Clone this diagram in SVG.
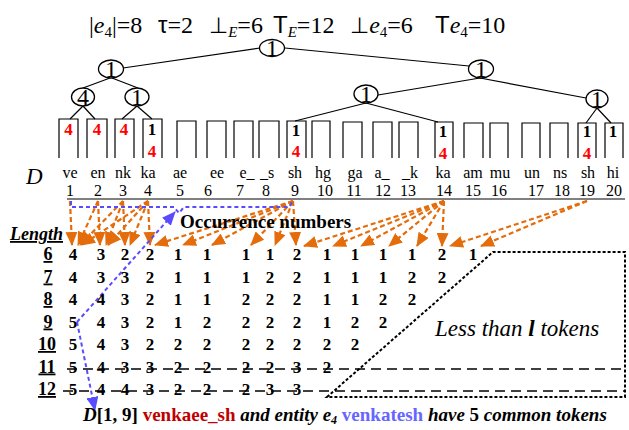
<svg xmlns="http://www.w3.org/2000/svg" width="629" height="430" viewBox="0 0 629 430">
<style>
text{font-family:"Liberation Serif","Times New Roman",serif;fill:#000}
.hd{font-size:24px}
.sans{font-family:"Liberation Sans",Arial,sans-serif}
.sym{font-family:"DejaVu Sans",sans-serif;font-size:22px}
.nd{fill:#fff;stroke:#000;stroke-width:1.3}
.ndt{font-size:24px;text-anchor:middle}
.edge{stroke:#000;stroke-width:1.2;fill:none}
.box{fill:none;stroke:#000;stroke-width:1.2}
.lv{font-size:17px;font-weight:bold;text-anchor:middle}
.red{fill:#FF0000}
.tok{font-size:16px;text-anchor:middle}
.cell{font-size:17px;font-weight:bold;text-anchor:middle}
.rl{font-size:18px;font-weight:bold;text-anchor:middle;text-decoration:underline}
.oa{stroke:#E46C0A;stroke-width:2.2;stroke-dasharray:5,3;fill:none;marker-end:url(#oh)}
.blue{stroke:#5B4BFF;stroke-width:2;stroke-dasharray:4,3;fill:none}
.strike{stroke:#000;stroke-width:1.4;stroke-dasharray:10,6;fill:none}
.dot{stroke:#000;stroke-width:2;stroke-dasharray:3,2;fill:none}
</style>
<defs>
<marker id="oh" markerUnits="userSpaceOnUse" markerWidth="14" markerHeight="12" refX="13" refY="6" orient="auto"><path d="M0,0 L14,6 L0,12 z" fill="#E46C0A"/></marker>
<marker id="bh" markerUnits="userSpaceOnUse" markerWidth="14" markerHeight="12" refX="13" refY="6" orient="auto"><path d="M0,0 L14,6 L0,12 z" fill="#5B4BFF"/></marker>
</defs>

<!-- header -->
<g id="header">
<text class="hd" x="89" y="33">|<tspan font-style="italic">e</tspan><tspan font-size="15" dy="4">4</tspan><tspan dy="-4">|=8</tspan></text>
<text class="hd" x="158" y="33"><tspan class="sans">τ</tspan>=2</text>
<text class="hd" x="209" y="33"><tspan class="sym">⊥</tspan><tspan font-style="italic" font-size="15" dy="4">E</tspan><tspan dy="-4">=6</tspan></text>
<text class="hd" x="273" y="33"><tspan class="sans">T</tspan><tspan font-style="italic" font-size="15" dy="4">E</tspan><tspan dy="-4">=12</tspan></text>
<text class="hd" x="350" y="33"><tspan class="sym">⊥</tspan><tspan font-style="italic">e</tspan><tspan font-size="15" dy="4">4</tspan><tspan dy="-4">=6</tspan></text>
<text class="hd" x="435" y="33"><tspan class="sans">T</tspan><tspan font-style="italic">e</tspan><tspan font-size="15" dy="4">4</tspan><tspan dy="-4">=10</tspan></text>
</g>

<!-- connectors -->
<g id="connectors">
<path class="edge" d="M260,48 L123,68"/>
<path class="edge" d="M285,48 L469,66"/>
<path class="edge" d="M110,78 L83,88"/>
<path class="edge" d="M112,78 L138,88"/>
<path class="edge" d="M83,106 L70,119"/>
<path class="edge" d="M83,106 L95,119"/>
<path class="edge" d="M137,106 L122,119"/>
<path class="edge" d="M137,106 L152,119"/>
<path class="edge" d="M480,78 L378,95"/>
<path class="edge" d="M480,78 L586,98"/>
<path class="edge" d="M366,103 L295,121"/>
<path class="edge" d="M366,103 L438,122"/>
<path class="edge" d="M597,108 L586,123"/>
<path class="edge" d="M597,108 L611,123"/>

<line x1="67" y1="199" x2="625" y2="199" stroke="#808080" stroke-width="2"/>

<!-- orange occurrence arrows -->
<path class="oa" d="M70,201 L72,245"/>
<path class="oa" d="M98,201 L78,245"/>
<path class="oa" d="M98,201 L100,245"/>
<path class="oa" d="M123,201 L80,245"/>
<path class="oa" d="M123,201 L106,245"/>
<path class="oa" d="M123,201 L125,245"/>
<path class="oa" d="M148,201 L82,245"/>
<path class="oa" d="M148,201 L108,245"/>
<path class="oa" d="M148,201 L130,245"/>
<path class="oa" d="M148,201 L150,245"/>
<path class="oa" d="M293,201 L155,245"/>
<path class="oa" d="M293,201 L183,245"/>
<path class="oa" d="M293,201 L212,245"/>
<path class="oa" d="M293,201 L251,245"/>
<path class="oa" d="M293,201 L275,245"/>
<path class="oa" d="M293,201 L296,245"/>
<path class="oa" d="M444,201 L304,246"/>
<path class="oa" d="M444,201 L333,246"/>
<path class="oa" d="M444,201 L361,246"/>
<path class="oa" d="M444,201 L389,246"/>
<path class="oa" d="M444,201 L417,246"/>
<path class="oa" d="M444,201 L442,246"/>
<path class="oa" d="M587,201 L450,246"/>
<path class="oa" d="M587,201 L481,246"/>

<!-- blue bracket and arrows -->
<path class="blue" d="M71,201 V207 H174 L179,213 L184,207 H289 L293,201"/>
<path class="blue" d="M77,322 L175,212" marker-end="url(#bh)"/>
<path class="blue" d="M77,322 L95,410" marker-end="url(#bh)"/>
</g>

<!-- tree nodes -->
<g id="n-root"><ellipse class="nd" cx="272" cy="48" rx="12.5" ry="8.5"/><text class="ndt" x="272" y="56">1</text></g>
<g id="n-l1"><ellipse class="nd" cx="111" cy="69" rx="12.5" ry="9"/><text class="ndt" x="111" y="77">1</text></g>
<g id="n-r1"><ellipse class="nd" cx="481" cy="69" rx="12.5" ry="9"/><text class="ndt" x="481" y="77">1</text></g>
<g id="n-l2a"><ellipse class="nd" cx="83" cy="97" rx="11.5" ry="9"/><text class="ndt" x="83" y="105">4</text></g>
<g id="n-l2b"><ellipse class="nd" cx="137" cy="97" rx="12" ry="9"/><text class="ndt" x="137" y="105">1</text></g>
<g id="n-r2a"><ellipse class="nd" cx="366" cy="94" rx="12" ry="9"/><text class="ndt" x="366" y="102">1</text></g>
<g id="n-r2b"><ellipse class="nd" cx="597" cy="99" rx="11" ry="9"/><text class="ndt" x="597" y="107">1</text></g>

<!-- leaves -->
<g id="leaf-1"><path class="box" d="M59,158 V119 H78 V158"/><text class="lv red" x="68.5" y="135">4</text></g>
<g id="leaf-2"><path class="box" d="M87,158 V119 H107 V158"/><text class="lv red" x="97" y="135">4</text></g>
<g id="leaf-3"><path class="box" d="M115,158 V119 H134 V158"/><text class="lv red" x="124" y="135">4</text></g>
<g id="leaf-4"><path class="box" d="M143,158 V119 H162 V158"/><text class="lv" x="152" y="135">1</text><text class="lv red" x="152" y="157">4</text></g>
<g id="leaf-5"><path class="box" d="M177,158 V121 H196 V158"/></g>
<g id="leaf-6"><path class="box" d="M207,158 V121 H226 V158"/></g>
<g id="leaf-7"><path class="box" d="M234,158 V121 H253 V158"/></g>
<g id="leaf-8"><path class="box" d="M259,158 V121 H279 V158"/></g>
<g id="leaf-9"><path class="box" d="M287,158 V121 H306 V158"/><text class="lv" x="296" y="136">1</text><text class="lv red" x="296" y="157">4</text></g>
<g id="leaf-10"><path class="box" d="M312,158 V121 H330 V158"/></g>
<g id="leaf-11"><path class="box" d="M343,158 V122 H362 V158"/></g>
<g id="leaf-12"><path class="box" d="M373,158 V122 H392 V158"/></g>
<g id="leaf-13"><path class="box" d="M399,158 V122 H418 V158"/></g>
<g id="leaf-14"><path class="box" d="M435,158 V122 H453 V158"/><text class="lv" x="443" y="137">1</text><text class="lv red" x="443" y="159">4</text></g>
<g id="leaf-15"><path class="box" d="M464,158 V123 H483 V158"/></g>
<g id="leaf-16"><path class="box" d="M490,158 V123 H508 V158"/></g>
<g id="leaf-17"><path class="box" d="M522,158 V123 H540 V158"/></g>
<g id="leaf-18"><path class="box" d="M550,158 V123 H568 V158"/></g>
<g id="leaf-19"><path class="box" d="M578,158 V123 H596 V158"/><text class="lv" x="587" y="137">1</text><text class="lv red" x="587" y="159">4</text></g>
<g id="leaf-20"><path class="box" d="M605,158 V123 H623 V158"/><text class="lv" x="613" y="137">1</text></g>

<!-- document tokens -->
<g id="doc">
<text x="26" y="184" font-size="23" font-style="italic">D</text>
<text class="tok" y="178"><tspan x="70">ve</tspan><tspan x="98">en</tspan><tspan x="123">nk</tspan><tspan x="148">ka</tspan><tspan x="180">ae</tspan><tspan x="217">ee</tspan><tspan x="247">e_</tspan><tspan x="267">_s</tspan><tspan x="295">sh</tspan><tspan x="323">hg</tspan><tspan x="355">ga</tspan><tspan x="382">a_</tspan><tspan x="410">_k</tspan><tspan x="443">ka</tspan><tspan x="473">am</tspan><tspan x="500">mu</tspan><tspan x="532">un</tspan><tspan x="560">ns</tspan><tspan x="588">sh</tspan><tspan x="613">hi</tspan></text>
<text class="tok" y="196"><tspan x="70">1</tspan><tspan x="98">2</tspan><tspan x="123">3</tspan><tspan x="148">4</tspan><tspan x="180">5</tspan><tspan x="208">6</tspan><tspan x="240">7</tspan><tspan x="266">8</tspan><tspan x="295">9</tspan><tspan x="325">10</tspan><tspan x="354">11</tspan><tspan x="383">12</tspan><tspan x="408">13</tspan><tspan x="444">14</tspan><tspan x="473">15</tspan><tspan x="499">16</tspan><tspan x="536">17</tspan><tspan x="562">18</tspan><tspan x="587">19</tspan><tspan x="614">20</tspan></text>
</g>

<text x="180" y="228" font-size="19" font-weight="bold">Occurrence numbers</text>

<!-- table -->
<g id="table">
<text x="10" y="240" font-size="18" font-weight="bold" font-style="italic" text-decoration="underline">Length</text>
<text class="rl" x="48" y="260">6</text>
<text class="rl" x="48" y="282.5">7</text>
<text class="rl" x="48" y="305">8</text>
<text class="rl" x="48" y="327.5">9</text>
<text class="rl" x="47" y="350">10</text>
<text class="rl" x="47" y="372.5">11</text>
<text class="rl" x="47" y="395">12</text>
<text class="cell" y="260"><tspan x="73">4</tspan><tspan x="101">3</tspan><tspan x="125">2</tspan><tspan x="150">2</tspan><tspan x="178">1</tspan><tspan x="207">1</tspan><tspan x="246">1</tspan><tspan x="270">1</tspan><tspan x="297">2</tspan><tspan x="327">1</tspan><tspan x="355">1</tspan><tspan x="383">1</tspan><tspan x="412">1</tspan><tspan x="442">2</tspan><tspan x="473">1</tspan></text>
<text class="cell" y="282.5"><tspan x="73">4</tspan><tspan x="101">3</tspan><tspan x="125">3</tspan><tspan x="150">2</tspan><tspan x="178">1</tspan><tspan x="207">1</tspan><tspan x="246">1</tspan><tspan x="270">2</tspan><tspan x="297">2</tspan><tspan x="327">1</tspan><tspan x="355">1</tspan><tspan x="383">1</tspan><tspan x="412">2</tspan><tspan x="442">2</tspan></text>
<text class="cell" y="305"><tspan x="73">4</tspan><tspan x="101">4</tspan><tspan x="125">3</tspan><tspan x="150">2</tspan><tspan x="178">1</tspan><tspan x="207">1</tspan><tspan x="246">2</tspan><tspan x="270">2</tspan><tspan x="297">2</tspan><tspan x="327">1</tspan><tspan x="355">1</tspan><tspan x="383">2</tspan><tspan x="412">2</tspan></text>
<text class="cell" y="327.5"><tspan x="73">5</tspan><tspan x="101">4</tspan><tspan x="125">3</tspan><tspan x="150">2</tspan><tspan x="178">1</tspan><tspan x="207">2</tspan><tspan x="246">2</tspan><tspan x="270">2</tspan><tspan x="297">2</tspan><tspan x="327">1</tspan><tspan x="355">2</tspan><tspan x="383">2</tspan></text>
<text class="cell" y="350"><tspan x="73">5</tspan><tspan x="101">4</tspan><tspan x="125">3</tspan><tspan x="150">2</tspan><tspan x="178">2</tspan><tspan x="207">2</tspan><tspan x="246">2</tspan><tspan x="270">2</tspan><tspan x="297">2</tspan><tspan x="327">2</tspan><tspan x="355">2</tspan></text>
<text class="cell" y="372.5"><tspan x="73">5</tspan><tspan x="101">4</tspan><tspan x="125">3</tspan><tspan x="150">3</tspan><tspan x="178">2</tspan><tspan x="207">2</tspan><tspan x="246">2</tspan><tspan x="270">2</tspan><tspan x="297">3</tspan><tspan x="327">2</tspan></text>
<text class="cell" y="395"><tspan x="73">5</tspan><tspan x="101">4</tspan><tspan x="125">4</tspan><tspan x="150">3</tspan><tspan x="178">2</tspan><tspan x="207">2</tspan><tspan x="246">2</tspan><tspan x="270">3</tspan><tspan x="297">3</tspan></text>
<line class="strike" x1="67" y1="369" x2="625" y2="369"/>
<line class="strike" x1="63" y1="391" x2="625" y2="391"/>
<path class="dot" d="M327,397 L493,252 H625 V397 Z"/>
<text x="435" y="336" font-size="23" font-style="italic">Less than <tspan font-weight="bold">l</tspan> tokens</text>
</g>

<text x="83" y="421" font-size="19" font-weight="bold"><tspan font-style="italic">D</tspan>[1, 9] <tspan fill="#C00000">venkaee_sh</tspan> <tspan font-style="italic">and entity e</tspan><tspan font-style="italic" font-size="12" dy="3">4</tspan><tspan dy="-3" fill="#6666FF"> venkatesh</tspan> <tspan font-style="italic">have</tspan> 5 <tspan font-style="italic">common tokens</tspan></text>
</svg>
